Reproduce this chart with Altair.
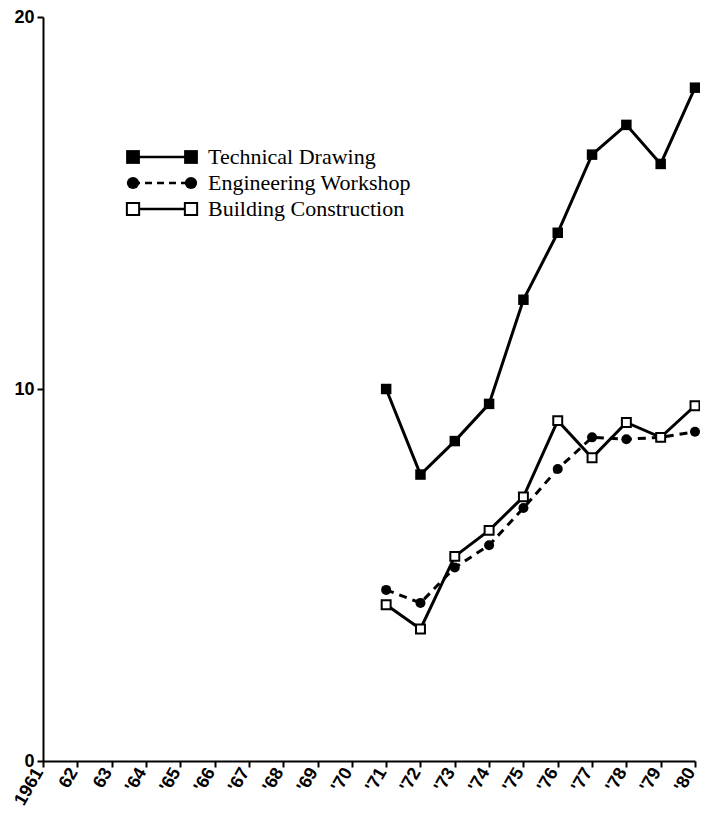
import json
import altair as alt
import pandas as pd

# ---- data ----
axis_years = list(range(1961, 1981))
tick_labels = ["1961", "62", "63", "'64", "'65", "'66", "'67", "'68", "'69", "'70",
               "'71", "'72", "'73", "'74", "'75", "'76", "'77", "'78", "'79", "'80"]
data_years = [1971, 1972, 1973, 1974, 1975, 1976, 1977, 1978, 1979, 1980]
technical = [10.0, 7.7, 8.6, 9.6, 12.4, 14.2, 16.3, 17.1, 16.05, 18.1]
engineering = [4.6, 4.25, 5.2, 5.8, 6.8, 7.85, 8.7, 8.65, 8.7, 8.85]
building = [4.2, 3.55, 5.5, 6.2, 7.1, 9.15, 8.15, 9.1, 8.7, 9.55]
series_names = ["Technical Drawing", "Engineering Workshop", "Building Construction"]
y_ticks = [0, 10, 20]

rows = []
for name, vals in zip(series_names, [technical, engineering, building]):
    for yr, v in zip(data_years, vals):
        rows.append({"year": yr, "value": v, "series": name})
df = pd.DataFrame(rows)

label_expr = json.dumps(tick_labels) + "[datum.value - 1961]"

x_enc = alt.X("year:Q",
              scale=alt.Scale(domain=[1961, 1980], nice=False, zero=False),
              axis=alt.Axis(values=axis_years, labelExpr=label_expr, labelAngle=300,
                            title=None, labelPadding=2, labelOffset=-4,
                            labelFontSize=18))
y_enc = alt.Y("value:Q",
              scale=alt.Scale(domain=[0, 20], nice=False),
              axis=alt.Axis(values=y_ticks, title=None, labelPadding=3,
                            labelFontSize=18))

base = alt.Chart(df)


def sel(name):
    return base.transform_filter(alt.datum.series == name)


tech_line = sel(series_names[0]).mark_line(color="black", strokeWidth=3).encode(x=x_enc, y=y_enc)
tech_pts = sel(series_names[0]).mark_point(shape="square", filled=True, color="black",
                                          size=110, opacity=1).encode(x=x_enc, y=y_enc)
eng_line = sel(series_names[1]).mark_line(color="black", strokeWidth=3,
                                         strokeDash=[8, 6]).encode(x=x_enc, y=y_enc)
eng_pts = sel(series_names[1]).mark_point(shape="circle", filled=True, color="black",
                                         size=100, opacity=1).encode(x=x_enc, y=y_enc)
bld_line = sel(series_names[2]).mark_line(color="black", strokeWidth=3).encode(x=x_enc, y=y_enc)
bld_pts = sel(series_names[2]).mark_point(shape="square", filled=True, fill="white",
                                         stroke="black", strokeWidth=2, size=80,
                                         opacity=1).encode(x=x_enc, y=y_enc)

# ---- manual legend (pixel positions inside plot area) ----
leg_rows_y = [140, 166, 192]
leg_x1, leg_x2, leg_text_x = 90, 148, 165
legend_layers = []
shapes = [("square", True, 190), ("circle", True, 150), ("square", False, 150)]
dashes = [None, [7, 5], None]
for i, name in enumerate(series_names):
    one = alt.Chart(pd.DataFrame({"label": [name]}))
    rule_kwargs = dict(color="black", strokeWidth=2.5)
    if dashes[i]:
        rule_kwargs["strokeDash"] = dashes[i]
    legend_layers.append(one.mark_rule(**rule_kwargs).encode(
        x=alt.value(leg_x1), x2=alt.value(leg_x2), y=alt.value(leg_rows_y[i])))
    shp, filled, size = shapes[i]
    for xx in (leg_x1, leg_x2):
        if filled:
            m = one.mark_point(shape=shp, filled=True, color="black", size=size, opacity=1)
        else:
            m = one.mark_point(shape=shp, filled=True, fill="white", stroke="black",
                               strokeWidth=2, size=size, opacity=1)
        legend_layers.append(m.encode(x=alt.value(xx), y=alt.value(leg_rows_y[i])))
    legend_layers.append(one.mark_text(font="Liberation Serif", fontSize=22, align="left",
                                       baseline="middle", color="black").encode(
        text="label:N", x=alt.value(leg_text_x), y=alt.value(leg_rows_y[i])))

chart = alt.layer(tech_line, eng_line, bld_line, tech_pts, eng_pts, bld_pts,
                  *legend_layers).properties(
    width=652, height=744,
    autosize=alt.AutoSizeParams(type="none"),
    padding={"left": 35, "top": 9, "right": 5, "bottom": 50},
).configure_view(stroke=None).configure_axis(
    grid=False, domainColor="black", domainWidth=2, tickColor="black", tickWidth=2,
    tickSize=6, labelFont="Liberation Sans", labelFontWeight="bold",
    labelColor="black",
)

chart.save("out.html", embed_options={"renderer": "svg", "actions": False})
